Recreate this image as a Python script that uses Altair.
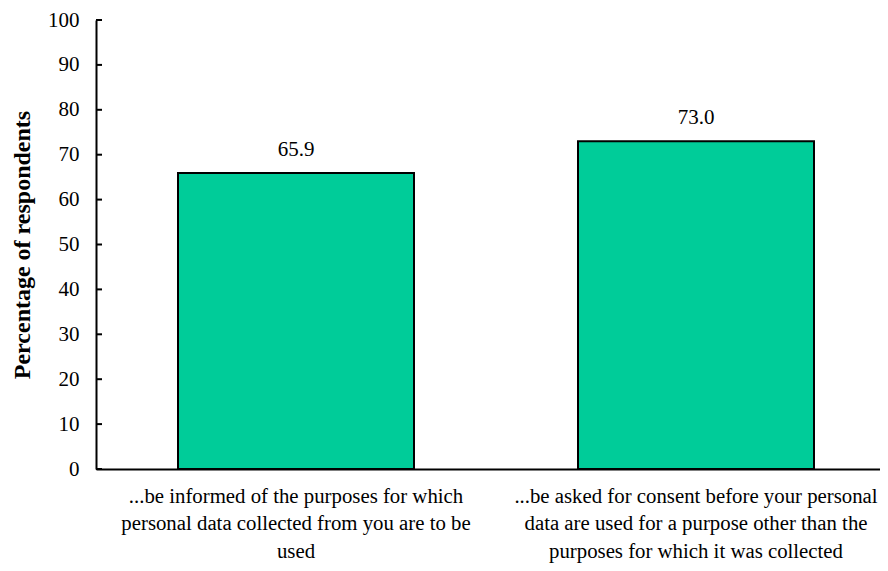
import altair as alt
import pandas as pd

categories = [
    "...be informed of the purposes for which|personal data collected from you are to be|used",
    "...be asked for consent before your personal|data are used for a purpose other than the|purposes for which it was collected",
]
values = [65.9, 73.0]
y_ticks = [0, 10, 20, 30, 40, 50, 60, 70, 80, 90, 100]
y_title = "Percentage of respondents"

W, H = 784, 449
FONT = "Times New Roman, Liberation Serif, serif"

df = pd.DataFrame({"cat": categories, "val": values})
ticks_df = pd.DataFrame({"t": y_ticks})
mid_df = pd.DataFrame({"cat": categories[1:]})

xscale = alt.Scale(domain=categories, range=[0, 800], paddingInner=0.41, paddingOuter=0.205)
yscale = alt.Scale(domain=[0, 100], nice=False)

x_axis = alt.Axis(title=None, labelAngle=0, labelExpr="split(datum.label, '|')",
                  ticks=False, domainColor="black", domainWidth=2,
                  labelFont=FONT, labelFontSize=20.8, labelColor="black",
                  labelLineHeight=27.5, labelPadding=17, labelLimit=0, labelBaseline="top")
y_axis = alt.Axis(title=y_title, values=y_ticks, ticks=False, grid=False,
                  domainColor="black", domainWidth=2,
                  labelFont=FONT, labelFontSize=21, labelColor="black", labelPadding=17,
                  titleFont=FONT, titleFontSize=24, titleFontWeight="bold", titleColor="black",
                  titlePadding=13)

bars = alt.Chart(df).mark_bar(fill="#00CC99", stroke="black", strokeWidth=2).encode(
    x=alt.X("cat:N", scale=xscale, sort=categories, axis=x_axis),
    y=alt.Y("val:Q", scale=yscale, axis=y_axis),
)

labels = alt.Chart(df).mark_text(font=FONT, fontSize=21, color="black",
                                 baseline="alphabetic", dy=-17).encode(
    x=alt.X("cat:N", scale=xscale, sort=categories, axis=x_axis),
    y=alt.Y("val:Q", scale=yscale, axis=y_axis),
    text=alt.Text("val:Q", format=".1f"),
)

yticks = alt.Chart(ticks_df).mark_rule(color="black", strokeWidth=2).encode(
    y=alt.Y("t:Q", scale=yscale, axis=y_axis),
    x=alt.value(0),
    x2=alt.value(6),
)

midtick = alt.Chart(mid_df).mark_rule(color="black", strokeWidth=1.5).encode(
    x=alt.X("cat:N", scale=xscale, sort=categories, axis=x_axis, bandPosition=0),
    y=alt.value(H),
    y2=alt.value(H - 7),
)

chart = alt.layer(bars, labels, yticks, midtick).properties(
    width=W, height=H,
    padding={"left": 88, "top": 12, "right": 0, "bottom": 94},
    autosize=alt.AutoSizeParams(type="none"),
).configure_view(stroke=None)

chart.save("out.html", embed_options={"renderer": "svg", "actions": False})
